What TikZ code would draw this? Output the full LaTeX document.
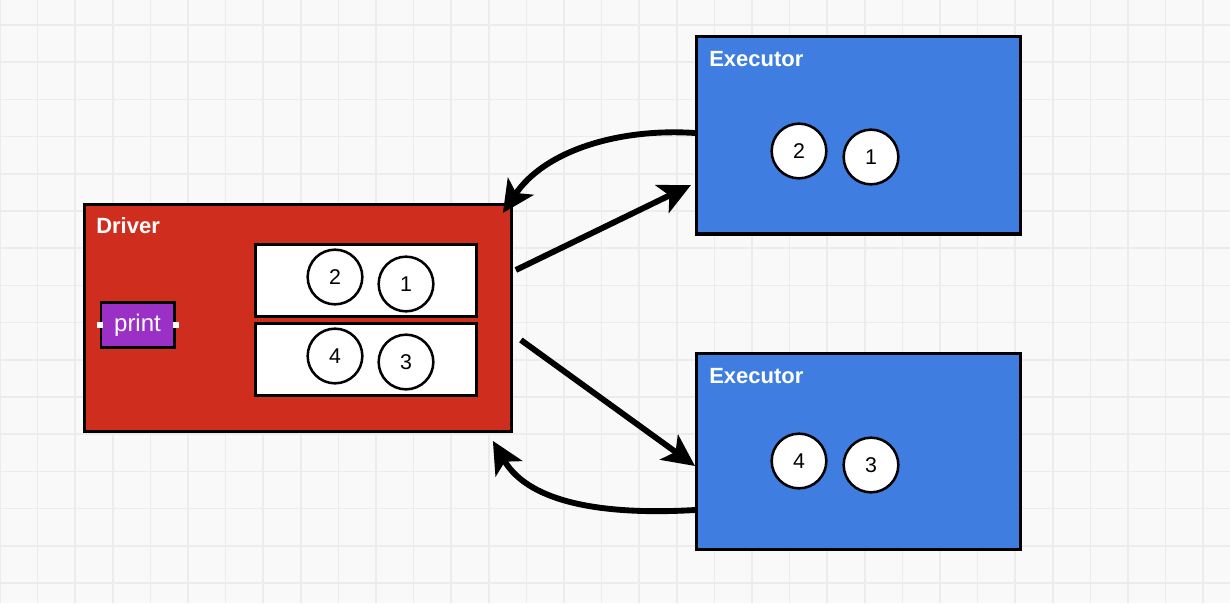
\documentclass[tikz,border=0pt]{standalone}
\usepackage{fontspec}
\setmainfont{Liberation Sans}
\usetikzlibrary{arrows.meta,calc}
\definecolor{bg}{HTML}{F9F9F9}
\definecolor{gridc}{HTML}{ECECEC}
\definecolor{drv}{HTML}{CF2E1E}
\definecolor{exe}{HTML}{3F7EE0}
\definecolor{prt}{HTML}{9B30C6}
\tikzset{
  px/.style={x=0.75pt,y=-0.75pt},
  bigbox/.style={draw=black,line width=2.4pt,inner sep=0pt,anchor=north west},
  boxlabel/.style={anchor=west,text=white,font=\bfseries\fontsize{16.5}{16.5}\selectfont,inner sep=0pt},
  slot/.style={draw=black,fill=white,line width=2.2pt,inner sep=0pt,anchor=north west},
  part/.style={circle,draw=black,fill=white,line width=1.9pt,minimum size=41pt,inner sep=0pt,font=\fontsize{16}{16}\selectfont},
  flow/.style={line width=4.4pt,-{Stealth[length=24pt,width=23pt,inset=6pt]}},
}
\begin{document}
\begin{tikzpicture}[px]
\useasboundingbox (0,0) rectangle (1230,603);
\fill[bg] (0,0) rectangle (1230,603);
\foreach \i in {0,...,33} {\draw[gridc,line width=1.2pt] ({37.6*\i},0) -- ({37.6*\i},603);}
\foreach \j in {0,...,16} {\draw[gridc,line width=1.2pt] (0,{25+37.2*\j}) -- (1230,{25+37.2*\j});}

% Driver
\node[bigbox,fill=drv,minimum width=320pt,minimum height=170pt] (drv) at (83,203) {};
\node[boxlabel] (drvlbl) at (96,226) {Driver};
\node[slot,minimum width=166pt,minimum height=54pt] (s1) at (254,243) {};
\node[slot,minimum width=166pt,minimum height=54pt] (s2) at (254,322) {};
\node[part] (d2) at (335,277) {2};
\node[part] (d1) at (406,284) {1};
\node[part] (d4) at (335,356) {4};
\node[part] (d3) at (406,362) {3};
\node[draw=black,fill=prt,line width=2pt,minimum width=55pt,minimum height=34pt,inner sep=0pt,text=white,font=\fontsize{18}{18}\selectfont] (prt) at (137.5,325) {print};
\node[fill=white,minimum size=4.5pt,inner sep=0pt] (pl) at (prt.west) {};
\node[fill=white,minimum size=4.5pt,inner sep=0pt] (pr) at (prt.east) {};

% Executors
\node[bigbox,fill=exe,minimum width=243pt,minimum height=148pt] (e1) at (695,35) {};
\node[boxlabel] (e1lbl) at (709,59) {Executor};
\node[part] (e12) at (799,151) {2};
\node[part] (e11) at (871,157) {1};
\node[bigbox,fill=exe,minimum width=243pt,minimum height=147pt] (e2) at (695,352) {};
\node[boxlabel] (e2lbl) at (709,376) {Executor};
\node[part] (e24) at (799,461) {4};
\node[part] (e23) at (871,465) {3};

% Connectors
\coordinate (a1s) at ($(e1.north west)+(0,98)$);
\coordinate (a1e) at ($(drv.north east)+(-10,10)$);
\draw[flow] (a1s) .. controls (620,128) and (545,150) .. (a1e);
\coordinate (a2s) at ($(drv.north east)+(3,67)$);
\coordinate (a2e) at ($(e1.north west)+(-4,150)$);
\draw[flow] (a2s) -- (a2e);
\coordinate (a3s) at ($(drv.north east)+(8,137)$);
\coordinate (a3e) at ($(e2.north west)+(0,114)$);
\draw[flow] (a3s) -- (a3e);
\coordinate (a4s) at ($(e2.north west)+(0,158)$);
\coordinate (a4e) at ($(drv.south east)+(-20,8)$);
\draw[flow] (a4s) .. controls (610,515) and (530,505) .. (a4e);
\end{tikzpicture}
\end{document}
